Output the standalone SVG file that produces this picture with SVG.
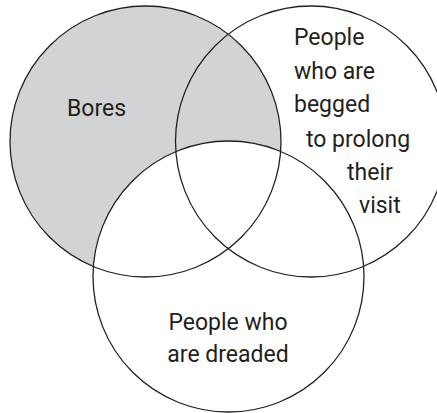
<svg xmlns="http://www.w3.org/2000/svg" width="437" height="413" viewBox="0 0 437 413">
  <style>
    .ring { fill: none; stroke: #231f20; stroke-width: 1.3; }
    .shade { fill: #d1d3d4; stroke: none; }
    .lbl { font-family: Roboto, "Liberation Sans", sans-serif; font-size: 23px; fill: #231f20; }
  </style>
  <rect width="437" height="413" fill="#ffffff"/>
  <g id="shading">
    <path class="shade" d="M280.64,151.42 A135.5,135.5 0 1 0 93.36,266.58 A135.5,135.5 0 0 1 280.64,151.42 Z"/>
  </g>
  <g id="connectors"></g>
  <g id="bores">
    <circle class="ring" cx="145.5" cy="141.5" r="135.5"/>
    <text class="lbl" x="67" y="116">Bores</text>
  </g>
  <g id="begged">
    <circle class="ring" cx="311" cy="141.5" r="135.5"/>
    <text class="lbl" x="294" y="45">People</text>
    <text class="lbl" x="294" y="79">who are</text>
    <text class="lbl" x="294" y="112">begged</text>
    <text class="lbl" x="306" y="147">to prolong</text>
    <text class="lbl" x="347" y="180">their</text>
    <text class="lbl" x="359" y="213">visit</text>
  </g>
  <g id="dreaded">
    <circle class="ring" cx="228.5" cy="276.5" r="135.5"/>
    <text class="lbl" x="228" y="330" text-anchor="middle">People who</text>
    <text class="lbl" x="228" y="362" text-anchor="middle">are dreaded</text>
  </g>
</svg>
